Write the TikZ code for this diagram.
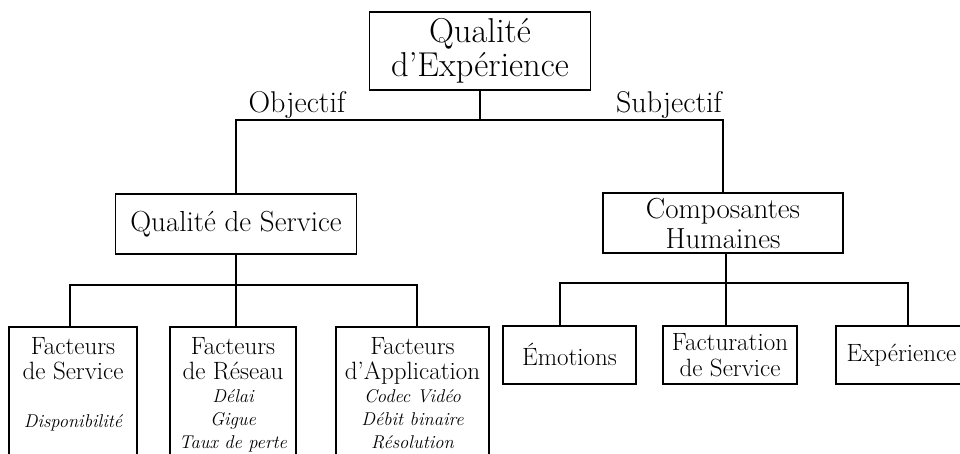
\documentclass[tikz,border=0pt]{standalone}
\usetikzlibrary{calc}
% smaller italic text used for the factor lists
\newcommand\subtxt{\fontsize{18.5}{20}\selectfont\itshape}
\begin{document}
\begin{tikzpicture}[x=1pt,y=-1pt,
  box/.style={draw, line width=1.5pt, inner sep=0pt, align=center},
  wire/.style={line width=1.5pt},
  big/.style={font=\fontsize{34.5}{33.5}\selectfont},
  mid/.style={font=\fontsize{29}{30}\selectfont},
  lbl/.style={font=\fontsize{30}{32}\selectfont},
  small/.style={font=\fontsize{25}{23}\selectfont},
  tall/.style={box, small, anchor=north, inner ysep=11pt, text depth=140pt},
  short/.style={box, small, anchor=north, minimum height=58pt},
]
\useasboundingbox (0,0) rectangle (960,454);
\clip (0,0) rectangle (960,454);

% root and the two main branches
\node[box, big, minimum width=221pt, minimum height=78pt] (qoe) at (480,51) {Qualité\\d’Expérience};
\node[box, mid, minimum width=241pt, minimum height=60pt] (qos) at (236,224) {Qualité de Service};
\node[box, mid, minimum width=240pt, minimum height=60pt] (hum) at (723,223) {Composantes\\Humaines};

\node[lbl, anchor=base] (obj) at (297,113) {Objectif};
\node[lbl, anchor=base] (subj) at (669,113) {Subjectif};

% technical factors
\node[tall, minimum width=128pt] (f1) at (73,326)
  {Facteurs\\[2pt]de Service\\[25pt]{\subtxt Disponibilité}};
\node[tall, minimum width=126pt] (f2) at (233,326)
  {Facteurs\\[2pt]de Réseau\\{\subtxt Délai}\\{\subtxt Gigue}\\{\subtxt Taux de perte}};
\node[tall, minimum width=153pt] (f3) at (412.5,326)
  {Facteurs\\[2pt]d’Application\\{\subtxt Codec Vidéo}\\{\subtxt Débit binaire}\\{\subtxt Résolution}};

% human components
\node[short, minimum width=133pt] (emo) at (569.5,325) {Émotions};
\node[short, minimum width=134pt, font=\fontsize{25}{26}\selectfont] (fact) at (730,325) {Facturation\\de Service};
\node[short, minimum width=131pt] (exp) at (901.5,325) {Expérience};

% bus levels and drop points
\coordinate (ty) at (0,120);
\coordinate (la) at (70,285);
\coordinate (lb) at (236,285);
\coordinate (lc) at (417,285);
\coordinate (ra) at (560,283);
\coordinate (rb) at (726,283);
\coordinate (rc) at (908,283);

% root tree
\draw[wire] (qoe.south) -- (qoe.south |- ty);
\draw[wire] (qos.north) -- (qos.north |- ty) -- (hum.north |- ty) -- (hum.north);

% left subtree
\draw[wire] (qos.south) -- (lb);
\draw[wire] (la |- f1.north) -- (la) -- (lc) -- (lc |- f3.north);
\draw[wire] (lb) -- (lb |- f2.north);

% right subtree
\draw[wire] (rb |- hum.south) -- (rb);
\draw[wire] (ra |- emo.north) -- (ra) -- (rc) -- (rc |- exp.north);
\draw[wire] (rb) -- (rb |- fact.north);
\end{tikzpicture}
\end{document}
